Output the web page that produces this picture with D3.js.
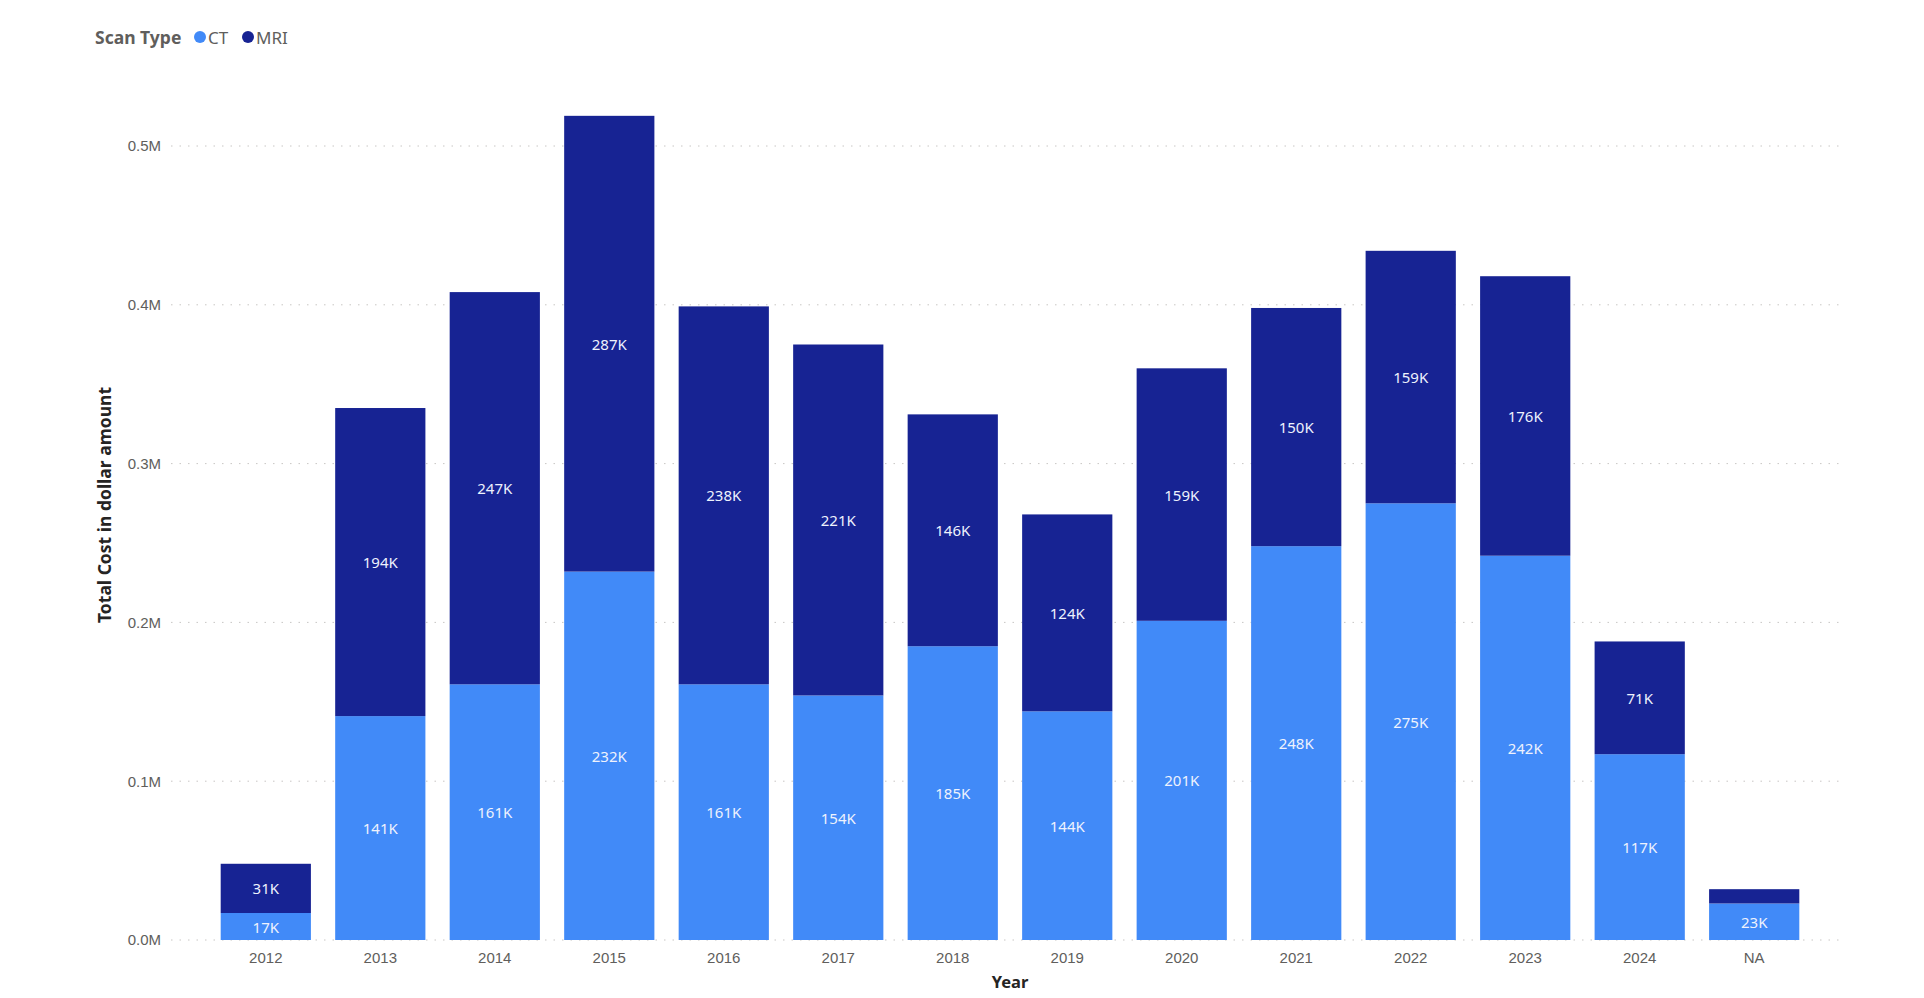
<!DOCTYPE html>
<html>
<head>
<meta charset="utf-8">
<script src="https://cdn.jsdelivr.net/npm/d3@7"></script>
<style>
  body { margin: 0; background: #fff; }
  svg { font-family: "Segoe UI", "Noto Sans", sans-serif; }
</style>
</head>
<body>
<div id="chart"></div>
<script>
// scan cost per year, values in K dollars
const years = ["2012", "2013", "2014", "2015", "2016", "2017", "2018", "2019", "2020", "2021", "2022", "2023", "2024", "NA"];
const ctCost = [17, 141, 161, 232, 161, 154, 185, 144, 201, 248, 275, 242, 117, 23];
const mriCost = [31, 194, 247, 287, 238, 221, 146, 124, 159, 150, 159, 176, 71, 9];
const yTicks = [0, 0.1, 0.2, 0.3, 0.4, 0.5];
const seriesNames = ["CT", "MRI"];
const seriesColors = ["#418AF8", "#172393"];

const W = 1924, H = 998;
const svg = d3.select("#chart").append("svg")
  .attr("width", W)
  .attr("height", H);

const x = d3.scaleBand()
  .domain(years)
  .range([171, 1849])
  .paddingInner(0.212)
  .paddingOuter(0.434);

const y = d3.scaleLinear()
  .domain([0, 0.5])
  .range([940, 146]);

// gridlines
svg.append("g")
  .selectAll("line")
  .data(yTicks)
  .join("line")
  .attr("x1", 171)
  .attr("x2", 1841)
  .attr("y1", d => y(d))
  .attr("y2", d => y(d))
  .attr("stroke", "#c8c6c4")
  .attr("stroke-width", 1)
  .attr("stroke-dasharray", "1.5 7");

// y axis labels
const yAxis = d3.axisLeft(y)
  .tickValues(yTicks)
  .tickFormat(d => d.toFixed(1) + "M")
  .tickSize(0)
  .tickPadding(0);
const gy = svg.append("g")
  .attr("transform", "translate(161,0)")
  .call(yAxis);
gy.select(".domain").remove();
gy.selectAll("text")
  .attr("fill", "#605E5C")
  .attr("font-size", "15px");

// stacked data
const rows = years.map((yr, i) => ({ year: yr, CT: ctCost[i] / 1000, MRI: mriCost[i] / 1000 }));
const stack = d3.stack().keys(seriesNames);
const layers = stack(rows);

const layerG = svg.append("g")
  .selectAll("g")
  .data(layers)
  .join("g")
  .attr("fill", (d, i) => seriesColors[i]);

layerG.selectAll("rect")
  .data(d => d)
  .join("rect")
  .attr("x", d => x(d.data.year))
  .attr("width", x.bandwidth())
  .attr("y", d => y(d[1]))
  .attr("height", d => y(d[0]) - y(d[1]));

// data labels (skip segments too thin to hold one)
layerG.selectAll("text")
  .data((d, i) => d.map(s => ({ s, key: seriesNames[i] })))
  .join("text")
  .filter(d => y(d.s[0]) - y(d.s[1]) > 20)
  .attr("x", d => x(d.s.data.year) + x.bandwidth() / 2)
  .attr("y", d => (y(d.s[0]) + y(d.s[1])) / 2)
  .attr("text-anchor", "middle")
  .attr("dominant-baseline", "central")
  .attr("font-size", "15px")
  .attr("fill", "#eef2fd")
  .text(d => Math.round(d.s.data[d.key] * 1000) + "K");

// x axis labels
const xAxis = d3.axisBottom(x).tickSize(0).tickPadding(0);
const gx = svg.append("g")
  .attr("transform", "translate(0,952)")
  .call(xAxis);
gx.select(".domain").remove();
gx.selectAll("text")
  .attr("fill", "#605E5C")
  .attr("font-size", "15px");

// axis titles
svg.append("text")
  .attr("x", 1010)
  .attr("y", 988)
  .attr("text-anchor", "middle")
  .attr("font-size", "16.5px")
  .attr("font-weight", "bold")
  .attr("fill", "#252423")
  .text("Year");

svg.append("text")
  .attr("transform", "translate(111,505) rotate(-90)")
  .attr("text-anchor", "middle")
  .attr("font-size", "17.5px")
  .attr("font-weight", "bold")
  .attr("fill", "#252423")
  .text("Total Cost in dollar amount");

// legend
const legend = svg.append("g").attr("transform", "translate(95,37)");
legend.append("text")
  .attr("x", 0)
  .attr("y", 0)
  .attr("dominant-baseline", "central")
  .attr("font-size", "17.5px")
  .attr("font-weight", "bold")
  .attr("fill", "#605E5C")
  .text("Scan Type");

const legendX = [105, 153];
seriesNames.forEach((name, i) => {
  legend.append("circle")
    .attr("cx", legendX[i])
    .attr("cy", 0)
    .attr("r", 6)
    .attr("fill", seriesColors[i]);
  legend.append("text")
    .attr("x", legendX[i] + 8)
    .attr("y", 0)
    .attr("dominant-baseline", "central")
    .attr("font-size", "17px")
    .attr("fill", "#605E5C")
    .text(name);
});
</script>
</body>
</html>
